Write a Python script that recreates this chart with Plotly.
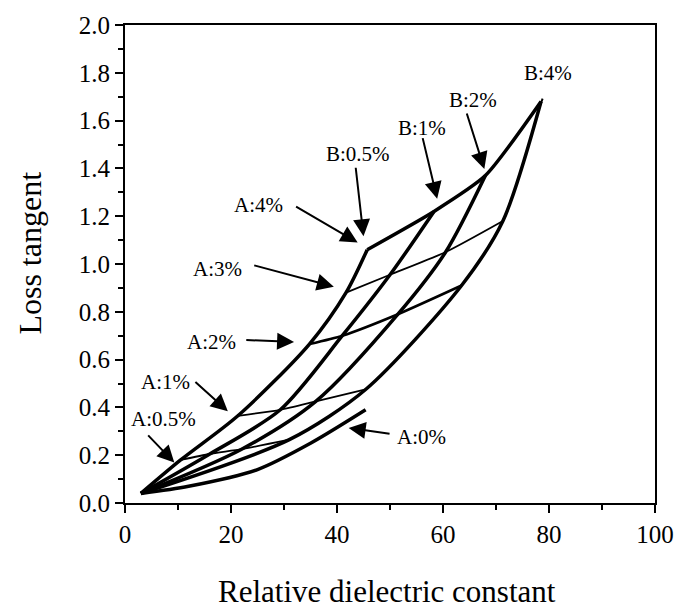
import plotly.graph_objects as go

# Content levels (wt%)
b_names = ["B:0.5%", "B:1%", "B:2%", "B:4%"]
a_names = ["A:0%", "A:0.5%", "A:1%", "A:2%", "A:3%", "A:4%"]

# Relative dielectric constant along each B curve, for A = 0, 0.5, 1, 2, 3, 4 %
eps_b05 = [3.0, 10.5, 21.3, 34.8, 41.7, 45.7]
eps_b1 = [3.0, 16.0, 29.3, 41.0, 50.0, 58.3]
eps_b2 = [3.0, 22.0, 36.0, 51.5, 60.5, 68.0]
eps_b4 = [3.0, 31.0, 45.4, 63.5, 71.3, 78.5]

# Loss tangent along each B curve, for A = 0, 0.5, 1, 2, 3, 4 %
tan_b05 = [0.04, 0.18, 0.365, 0.665, 0.88, 1.06]
tan_b1 = [0.04, 0.205, 0.39, 0.70, 0.955, 1.22]
tan_b2 = [0.04, 0.225, 0.425, 0.79, 1.05, 1.37]
tan_b4 = [0.04, 0.265, 0.475, 0.91, 1.18, 1.68]

# A = 0 % curve
eps_a0 = [3.0, 12.0, 25.0, 35.0, 45.4]
tan_a0 = [0.04, 0.07, 0.14, 0.25, 0.39]

# Axis ticks
x_ticks = [0, 20, 40, 60, 80, 100]
y_ticks = [0.0, 0.2, 0.4, 0.6, 0.8, 1.0, 1.2, 1.4, 1.6, 1.8, 2.0]

eps_rows = [eps_b05, eps_b1, eps_b2, eps_b4]
tan_rows = [tan_b05, tan_b1, tan_b2, tan_b4]

# Line weights of the constant-A lines (index = A level)
a_widths = [3.5, 1.8, 1.8, 2.6, 1.8, 3.5]

FONT = "Liberation Serif, Times New Roman, serif"
INK = "black"

fig = go.Figure()

# constant-B curves
for name, ex, ty in zip(b_names, eps_rows, tan_rows):
    fig.add_trace(go.Scatter(x=ex, y=ty, mode="lines", name=name,
                             line=dict(color=INK, width=3.5, shape="spline", smoothing=0.8),
                             showlegend=False))

# constant-A lines crossing the B curves
for k in range(1, len(a_names)):
    fig.add_trace(go.Scatter(x=[row[k] for row in eps_rows],
                             y=[row[k] for row in tan_rows],
                             mode="lines", name=a_names[k],
                             line=dict(color=INK, width=a_widths[k], shape="spline", smoothing=0.6),
                             showlegend=False))

fig.add_trace(go.Scatter(x=eps_a0, y=tan_a0, mode="lines", name=a_names[0],
                         line=dict(color=INK, width=3.5, shape="spline", smoothing=0.8),
                         showlegend=False))

# label positions (text centres) and arrows (tail -> tip)
labels = [
    ("A:4%", 25.2, 1.248), ("A:3%", 17.4, 0.979), ("A:2%", 16.3, 0.674),
    ("A:1%", 7.6, 0.508), ("A:0.5%", 7.2, 0.351), ("A:0%", 55.9, 0.277),
    ("B:0.5%", 43.9, 1.459), ("B:1%", 56.1, 1.570), ("B:2%", 65.7, 1.686),
    ("B:4%", 79.8, 1.798),
]
arrows = [
    (32.0, 1.244, 43.9, 1.090, 2),
    (24.1, 0.996, 39.4, 0.905, 2),
    (22.6, 0.682, 31.9, 0.674, 2),
    (13.0, 0.512, 19.4, 0.384, 2),
    (4.1, 0.289, 9.3, 0.169, 2),
    (50.2, 0.289, 42.2, 0.314, 2),
    (43.5, 1.409, 45.0, 1.116, 2),
    (56.1, 1.533, 58.9, 1.273, 2),
    (64.4, 1.636, 67.8, 1.397, 2),
    (78.9, 1.698, 78.0, 1.645, 0),
]

annotations = []
for txt, lx, ly in labels:
    annotations.append(dict(x=lx, y=ly, xref="x", yref="y", text=txt, showarrow=False,
                            font=dict(family=FONT, size=21, color=INK)))
for tx, ty, hx, hy, head in arrows:
    annotations.append(dict(x=hx, y=hy, ax=tx, ay=ty, xref="x", yref="y",
                            axref="x", ayref="y", text="", showarrow=True,
                            arrowhead=head, arrowsize=1.7, arrowwidth=2,
                            arrowcolor=INK, standoff=0, startstandoff=0))

# axis titles
annotations.append(dict(x=0.494, y=-0.185, xref="paper", yref="paper",
                        text="Relative dielectric constant", showarrow=False,
                        font=dict(family=FONT, size=31, color=INK),
                        xanchor="center", yanchor="middle"))
annotations.append(dict(x=-0.18, y=0.523, xref="paper", yref="paper",
                        text="Loss tangent", showarrow=False, textangle=-90,
                        font=dict(family=FONT, size=32, color=INK),
                        xanchor="center", yanchor="middle"))

axis_common = dict(showline=True, linewidth=2, linecolor=INK, mirror=True,
                   ticks="outside", ticklen=8, tickwidth=2, tickcolor=INK,
                   showgrid=False, zeroline=False)

fig.update_layout(
    width=686, height=610,
    margin=dict(l=125, r=21, t=19, b=107),
    font=dict(family=FONT, color=INK, size=25),
    paper_bgcolor="white", plot_bgcolor="white",
    xaxis=dict(range=[0, 100], tickmode="array", tickvals=x_ticks,
               ticktext=[str(v) for v in x_ticks],
               tickfont=dict(family=FONT, size=25, color=INK),
               minor=dict(dtick=10, ticklen=5, tickwidth=1.5, ticks="outside", tickcolor=INK),
               **axis_common),
    yaxis=dict(range=[0, 2.0], tickmode="array", tickvals=y_ticks,
               ticktext=[f"{v:.1f}" for v in y_ticks],
               tickfont=dict(family=FONT, size=25, color=INK),
               minor=dict(dtick=0.1, ticklen=5, tickwidth=1.5, ticks="outside", tickcolor=INK),
               **axis_common),
    annotations=annotations,
)

fig.write_html("out.html")
